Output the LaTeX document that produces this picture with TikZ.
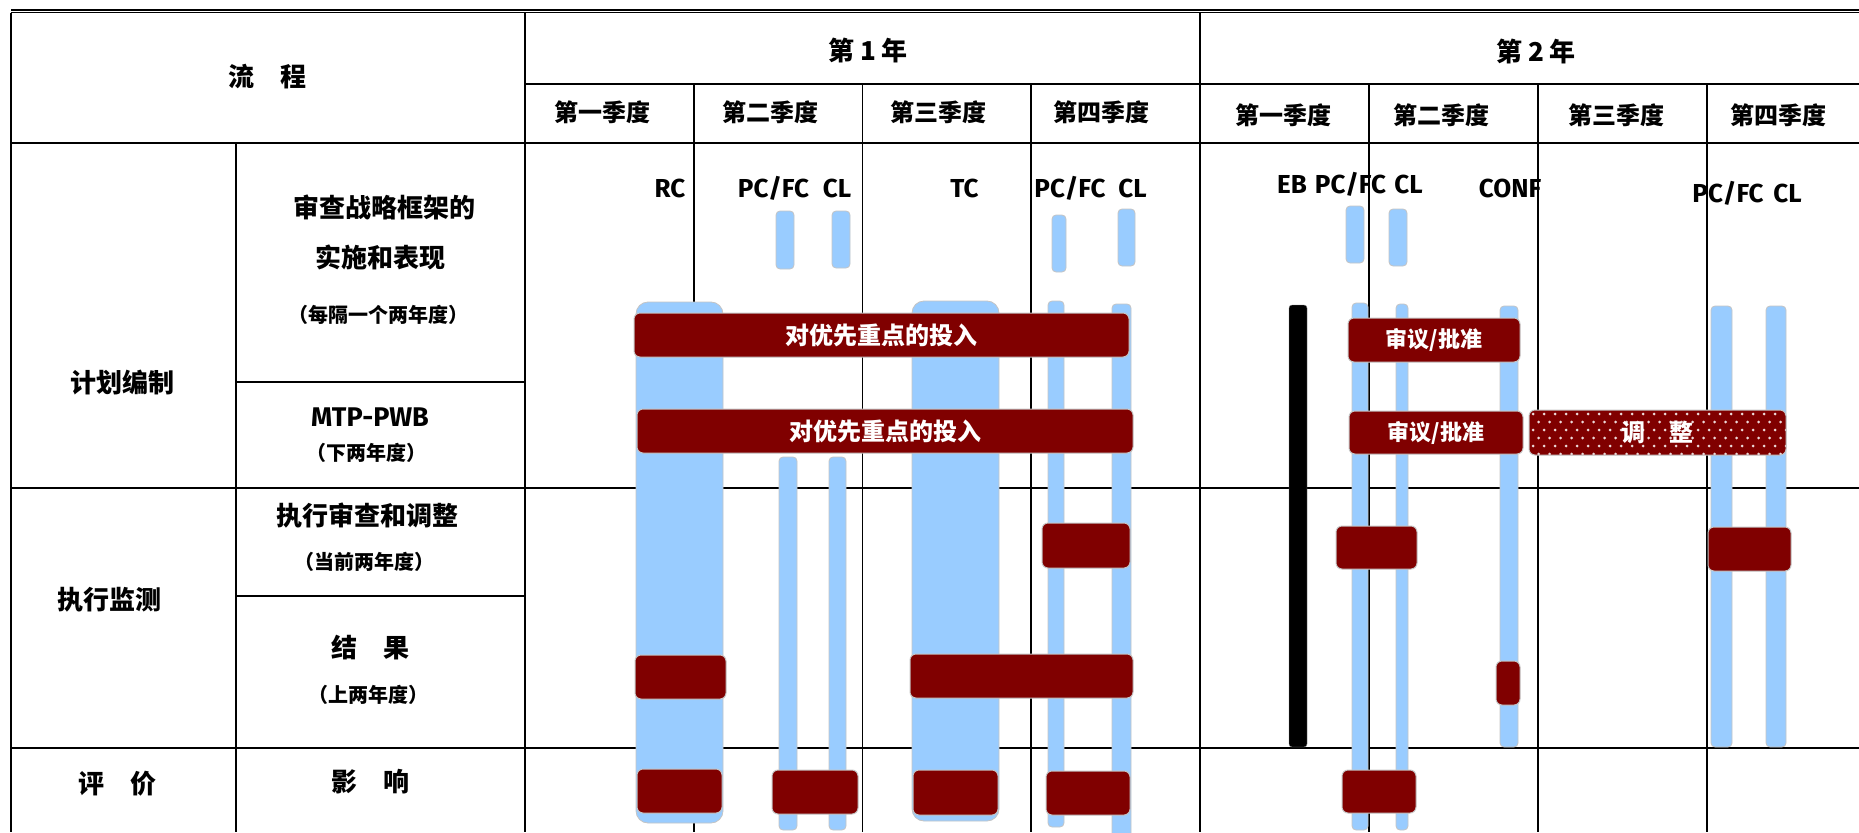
\documentclass[tikz,border=0pt]{standalone}
\usepackage{fontspec}
\usepackage{tikz}
\newfontfamily\cjk{Noto Sans CJK SC}
\newfontfamily\gill{Fira Sans}
\definecolor{sky}{HTML}{99CCFF}
\definecolor{wine}{HTML}{800000}
\definecolor{rim}{HTML}{C4C4C4}
\newcommand{\zh}[1]{\fontsize{#1}{#1}\selectfont\cjk\bfseries}

\begin{document}
\begin{tikzpicture}[x=1pt,y=-1pt,
  grid/.style={line width=1.8pt},
  head/.style={font=\zh{26}},
  quarter/.style={font=\zh{24}},
  sub/.style={font=\zh{20}},
  tag/.style={font=\fontsize{26}{26}\selectfont\gill\bfseries,anchor=base,inner sep=0pt},
  bar/.style={fill=sky,draw=rim,line width=0.8pt,rounded corners=4pt},
  redbox/.style={fill=wine,draw=rim,line width=1pt,rounded corners=6pt,text=white,font=\zh{24}}]
\useasboundingbox (0,0) rectangle (1859,832);

\draw[line width=2.4pt] (11,10) -- (1859,10);
\draw[line width=1.2pt] (11,12.9) -- (1859,12.9);
\draw[grid] (11,12.7) -- (11,832) (525,12.7) -- (525,832) (1200,12.7) -- (1200,832) (236,143) -- (236,832);
\foreach \qx in {694,862.5,1031,1369,1538,1707} \draw[grid] (\qx,84) -- (\qx,832);
\draw[grid] (525,84) -- (1859,84);
\foreach \ry in {143,488,748} \draw[grid] (11,\ry) -- (1859,\ry);
\draw[grid] (236,382) -- (525,382) (236,596) -- (525,596);

\node[head] (flow) at (267,77) {流　程};
\node[head] (year1) at (868,50) {第 1 年};
\node[head] (year2) at (1536,51) {第 2 年};
\foreach \qx/\qn [count=\k] in {602/一,770/二,938/三,1101/四}
  \node[quarter] (qa\k) at (\qx,112) {第\qn 季度};
\foreach \qx/\qn [count=\k] in {1283/一,1441/二,1616/三,1778/四}
  \node[quarter] (qb\k) at (\qx,115) {第\qn 季度};

\node[head] (plan) at (122,383) {计划编制};
\node[head] (exec) at (109,600) {执行监测};
\node[head] (eval) at (117,784) {评　价};
\node[head] (review) at (384,207) {审查战略框架的};
\node[head] (review2) at (380,257) {实施和表现};
\node[sub] (reviewn) at (378,315) {（每隔一个两年度）};
\node[font=\fontsize{27}{27}\selectfont\gill\bfseries] (mtp) at (370,417) {MTP-PWB};
\node[sub] (mtpn) at (366,453) {（下两年度）};
\node[head] (impl) at (367,516) {执行审查和调整};
\node[sub] (impln) at (364,562) {（当前两年度）};
\node[head] (result) at (370,648) {结　果};
\node[sub] (resultn) at (368,695) {（上两年度）};
\node[head] (impact) at (370,782) {影　响};

\node[tag] (rc) at (670,197) {RC};
\node[tag] (pcfc1) at (773.5,197) {PC/FC};
\node[tag] (cl1) at (837,197) {CL};
\node[tag] (tc) at (964.5,197) {TC};
\node[tag] (pcfc2) at (1070,197) {PC/FC};
\node[tag] (cl2) at (1132.5,197) {CL};
\node[tag] (eb) at (1292,193) {EB};
\node[tag] (pcfc3) at (1350.5,193) {PC/FC};
\node[tag] (cl3) at (1408.5,193) {CL};
\node[tag] (conf) at (1510,197) {CONF};
\node[tag] (pcfc4) at (1728,202) {PC/FC};
\node[tag] (cl4) at (1787.5,202) {CL};

\foreach \xa/\xb/\ya/\yb in {776/794/211/269, 832/850/211/268, 1052/1066/215/272, 1118/1135/209/266,
    1346/1364/206/263, 1389/1407/209/266, 779/797/457/830, 829/846/457/830, 1048/1064/301/827,
    1112/1131/304/845, 1352/1368/303/830, 1396/1408/304/830, 1500/1518/306/747, 1711/1732/306/747,
    1766/1786/306/747}
  \draw[bar] (\xa,\ya) rectangle (\xb,\yb);
\draw[bar,rounded corners=12pt] (636,302) rectangle (723,823);
\draw[bar,rounded corners=12pt] (912,301) rectangle (999,821);
\draw[fill=black,draw=gray,rounded corners=3pt] (1289,305) rectangle (1307,747);

\node[redbox,minimum width=495,minimum height=44] (prio1) at (881.5,335) {对优先重点的投入};
\node[redbox,minimum width=496,minimum height=44] (prio2) at (885,431) {对优先重点的投入};
\node[redbox,minimum width=172,minimum height=44,font=\zh{22}] (rev1) at (1434,340) {审议/批准};
\node[redbox,minimum width=174,minimum height=43,font=\zh{22}] (rev2) at (1436,432.5) {审议/批准};
\node[redbox,minimum width=257,minimum height=45,path picture={
    \foreach \i in {0,...,23} \foreach \j in {0,...,5}
      \fill[white!85!wine] ([xshift={4+\i*11+mod(\j,2)*5.5},yshift={-4-\j*8}]path picture bounding box.north west) circle[radius=1.5pt];
  }] (adj) at (1657.5,432.5) {调　整};
\foreach \xa/\xb/\ya/\yb [count=\k] in {1042/1130/523/568, 1336/1417/526/569, 1708/1791/527/571,
    635/726/655/699, 910/1133/654/698, 1496/1520/661/705, 637/722/769/813, 772/858/770/814,
    913/998/770/815, 1046/1130/771/815, 1342/1416/770/813}
  \node[redbox,minimum width=\xb-\xa,minimum height=\yb-\ya] (blk\k) at ({(\xa+\xb)/2},{(\ya+\yb)/2}) {};
\end{tikzpicture}
\end{document}
